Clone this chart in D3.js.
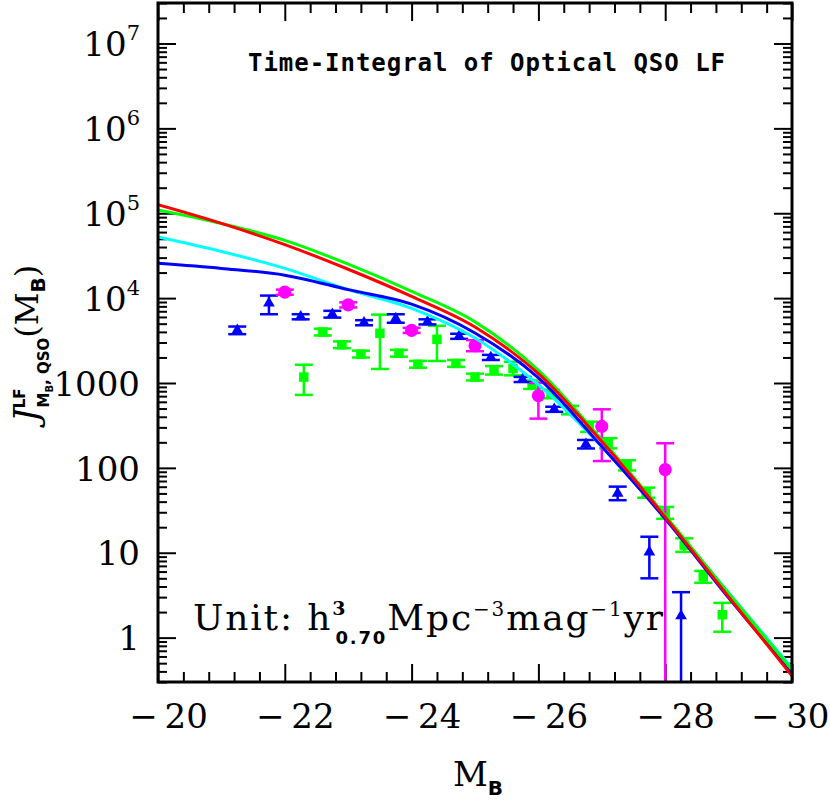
<!DOCTYPE html>
<html>
<head>
<meta charset="utf-8">
<script src="https://cdn.jsdelivr.net/npm/d3@7"></script>
<style>
  body { margin: 0; background: #fff; }
</style>
</head>
<body>
<svg id="chart" width="830" height="802"></svg>
<script>
"use strict";

// model curves (M_B grid, integral values)
const curve_mag = [-20, -21, -22, -23, -24, -25, -26, -27, -28, -29, -30];
const curve_red = [125900, 75860, 42660, 21880, 10470, 4571, 1288, 204, 26.3, 3.02, 0.355];
const curve_green = [109600, 75860, 47860, 25120, 12020, 5248, 1413, 214, 27.5, 3.31, 0.417];
const curve_cyan = [52480, 35480, 22390, 12590, 7586, 3388, 955, 178, 25.7, 3.39, 0.437];
const curve_blue = [25700, 22390, 18620, 12590, 8511, 3890, 1148, 178, 25.1, 2.95, 0.380];

// blue triangles
const tri_mag = [-21.25, -21.75, -22.25, -22.75, -23.25, -23.75, -24.25, -24.75, -25.25, -25.75, -26.25, -26.75, -27.25, -27.75, -28.25];
const tri_val = [4170, 8710, 6030, 6460, 5130, 5750, 5250, 3550, 2000, 1100, 490, 190, 50, 10.2, 1.8];
const tri_err_up = [0.045, 0.09, 0.03, 0.04, 0.03, 0.05, 0.03, 0.03, 0.03, 0.03, 0.03, 0.05, 0.08, 0.18, 0.28];   // dex
const tri_err_dn = [0.045, 0.13, 0.03, 0.04, 0.03, 0.05, 0.03, 0.03, 0.03, 0.03, 0.03, 0.05, 0.08, 0.31, null];

// magenta circles
const circ_mag = [-22, -23, -24, -25, -26, -27, -28];
const circ_val = [11750, 8320, 4170, 2750, 708, 309, 95.5];
const circ_err_up = [0.03, 0.03, 0.03, 0.065, 0.15, 0.2, 0.31];
const circ_err_dn = [0.03, 0.03, 0.03, 0.065, 0.27, 0.41, null];

// green squares
const sq_mag = [-22.3, -22.6, -22.9, -23.2, -23.5, -23.8, -24.1, -24.4, -24.7, -25.0, -25.3, -25.6,
  -25.9, -26.2, -26.5, -26.8, -27.1, -27.4, -27.7, -28.0, -28.3, -28.6, -28.9];
const sq_val = [1175, 3980, 2820, 2190, 3850, 2240, 1660, 3270, 1700, 1175, 1410, 1480,
  955, 741, 479, 305, 195, 107, 51, 29.5, 12.3, 5.2, 1.86];
const sq_err_up = [0.145, 0.04, 0.04, 0.04, 0.22, 0.04, 0.04, 0.16, 0.04, 0.04, 0.05, 0.08,
  0.05, 0.05, 0.05, 0.06, 0.06, 0.06, 0.06, 0.07, 0.08, 0.07, 0.14];
const sq_err_dn = [0.21, 0.04, 0.04, 0.04, 0.42, 0.04, 0.04, 0.255, 0.04, 0.04, 0.05, 0.08,
  0.05, 0.05, 0.05, 0.06, 0.06, 0.06, 0.06, 0.07, 0.08, 0.07, 0.2];

// axis ticks
const x_major = [-20, -22, -24, -26, -28, -30];
const y_major = [1, 10, 100, 1000, 1e4, 1e5, 1e6, 1e7];

const chart_svg = d3.select("#chart");
const plot_left = 158, plot_right = 792, plot_top = 3, plot_bottom = 682;

const x_scale = d3.scaleLinear().domain([-20, -30]).range([plot_left, plot_right]);
const y_scale = d3.scaleLog().domain([0.3, 3e7]).range([plot_bottom, plot_top]);

chart_svg.append("clipPath").attr("id", "plot-area").append("rect")
  .attr("x", plot_left).attr("y", plot_top)
  .attr("width", plot_right - plot_left).attr("height", plot_bottom - plot_top);

// minor ticks
const x_minor = d3.range(0, 26).filter(i => i % 5 !== 0).map(i => -20 - i * 0.4);
const y_minor = [];
for (let k = -1; k <= 7; k++) {
  for (let m = 2; m <= 9; m++) {
    const v = m * Math.pow(10, k);
    if (v >= 0.3 && v <= 3e7) y_minor.push(v);
  }
}

const serif = "'DejaVu Serif', serif";
const sans = "'DejaVu Sans', sans-serif";

function style_axis(g) {
  g.select(".domain").remove();
  g.selectAll(".tick line").attr("stroke", "#000").attr("stroke-width", 2);
}

// bottom + top
chart_svg.append("g")
  .attr("transform", "translate(0," + plot_bottom + ")")
  .call(d3.axisBottom(x_scale).tickValues(x_minor).tickSize(-10).tickFormat(""))
  .call(style_axis);
let x_axis = chart_svg.append("g")
  .attr("transform", "translate(0," + plot_bottom + ")")
  .call(d3.axisBottom(x_scale).tickValues(x_major).tickSize(-18).tickPadding(22)
    .tickFormat(d => "\u2212\u2009" + Math.abs(d)))
  .call(style_axis);
x_axis.selectAll(".tick text").each(function (d) {
  const t = d3.select(this)
    .attr("font-family", serif).attr("font-size", 34).attr("fill", "#000");
  // labels sit a bit right of the tick; the last one is kept inside the page
  if (d === -30) t.attr("text-anchor", "end").attr("x", 829 - plot_right);
  else t.attr("dx", 10);
});

chart_svg.append("g")
  .attr("transform", "translate(0," + plot_top + ")")
  .call(d3.axisTop(x_scale).tickValues(x_minor).tickSize(-10).tickFormat(""))
  .call(style_axis);
chart_svg.append("g")
  .attr("transform", "translate(0," + plot_top + ")")
  .call(d3.axisTop(x_scale).tickValues(x_major).tickSize(-18).tickFormat(""))
  .call(style_axis);

// left + right
chart_svg.append("g")
  .attr("transform", "translate(" + plot_left + ",0)")
  .call(d3.axisLeft(y_scale).tickValues(y_minor).tickSize(-9).tickFormat(""))
  .call(style_axis);
let y_axis = chart_svg.append("g")
  .attr("transform", "translate(" + plot_left + ",0)")
  .call(d3.axisLeft(y_scale).tickValues(y_major).tickSize(-18).tickPadding(18).tickFormat(""))
  .call(style_axis);

y_axis.selectAll(".tick text").each(function (d) {
  const t = d3.select(this)
    .attr("font-family", serif).attr("font-size", 34).attr("fill", "#000")
    .attr("dy", "0.36em");
  if (d >= 1e4) {
    const e = Math.round(Math.log10(d));
    t.append("tspan").text("10");
    t.append("tspan").attr("font-size", 21).attr("dy", "-0.75em").text(e);
  } else {
    t.text(d3.format("d")(d));
  }
});

chart_svg.append("g")
  .attr("transform", "translate(" + plot_right + ",0)")
  .call(d3.axisRight(y_scale).tickValues(y_minor).tickSize(-9).tickFormat(""))
  .call(style_axis);
chart_svg.append("g")
  .attr("transform", "translate(" + plot_right + ",0)")
  .call(d3.axisRight(y_scale).tickValues(y_major).tickSize(-18).tickFormat(""))
  .call(style_axis);

// data points with error bars
const plot_g = chart_svg.append("g").attr("clip-path", "url(#plot-area)");

function draw_points(mags, vals, err_up, err_dn, color, symbol, size) {
  const data = mags.map((m, i) => ({ m: m, v: vals[i], up: err_up[i], dn: err_dn[i] }));
  const grp = plot_g.append("g");
  const cap = 9;
  data.forEach(d => {
    const px = x_scale(d.m);
    const y_hi = y_scale(d.v * Math.pow(10, d.up));
    const y_lo = d.dn === null ? plot_bottom + 5 : y_scale(d.v / Math.pow(10, d.dn));
    grp.append("line").attr("x1", px).attr("x2", px).attr("y1", y_hi).attr("y2", y_lo)
      .attr("stroke", color).attr("stroke-width", 2.5);
    grp.append("line").attr("x1", px - cap).attr("x2", px + cap).attr("y1", y_hi).attr("y2", y_hi)
      .attr("stroke", color).attr("stroke-width", 2.5);
    if (d.dn !== null) {
      grp.append("line").attr("x1", px - cap).attr("x2", px + cap).attr("y1", y_lo).attr("y2", y_lo)
        .attr("stroke", color).attr("stroke-width", 2.5);
    }
  });
  grp.selectAll("path.mk")
    .data(data)
    .enter()
    .append("path")
    .attr("class", "mk")
    .attr("transform", d => "translate(" + x_scale(d.m) + "," + y_scale(d.v) + ")")
    .attr("d", d3.symbol().type(symbol).size(size))
    .attr("fill", color);
}

draw_points(sq_mag, sq_val, sq_err_up, sq_err_dn, "#00ff00", d3.symbolSquare, 90);
draw_points(tri_mag, tri_val, tri_err_up, tri_err_dn, "#0000ff", d3.symbolTriangle, 60);
draw_points(circ_mag, circ_val, circ_err_up, circ_err_dn, "#ff00ff", d3.symbolCircle, 135);

// model curves
const line_gen = d3.line()
  .x(d => x_scale(d[0]))
  .y(d => y_scale(d[1]))
  .curve(d3.curveMonotoneX);

const curves = [
  { vals: curve_cyan, color: "#00ffff" },
  { vals: curve_blue, color: "#0000ff" },
  { vals: curve_green, color: "#00ff00" },
  { vals: curve_red, color: "#ff0000" }
];
curves.forEach(c => {
  plot_g.append("path")
    .datum(curve_mag.map((m, i) => [m, c.vals[i]]))
    .attr("d", line_gen)
    .attr("fill", "none")
    .attr("stroke", c.color)
    .attr("stroke-width", 3);
});

// frame
chart_svg.append("rect")
  .attr("x", plot_left).attr("y", plot_top)
  .attr("width", plot_right - plot_left).attr("height", plot_bottom - plot_top)
  .attr("fill", "none").attr("stroke", "#000").attr("stroke-width", 3);

// title
chart_svg.append("text")
  .attr("x", 248).attr("y", 71)
  .attr("font-family", "'DejaVu Sans Mono', monospace").attr("font-weight", "bold")
  .attr("font-size", 24)
  .attr("textLength", 477).attr("lengthAdjust", "spacing")
  .text("Time-Integral of Optical QSO LF");

// unit annotation
let unit_txt = chart_svg.append("text")
  .attr("x", 193).attr("y", 630)
  .attr("font-family", serif).attr("font-size", 36)
  .attr("textLength", 470).attr("lengthAdjust", "spacing");
unit_txt.append("tspan").text("Unit:\u00a0h");
unit_txt.append("tspan").attr("font-size", 19).attr("font-weight", "bold").attr("dy", -15).text("3");
unit_txt.append("tspan").attr("font-size", 18).attr("font-weight", "bold")
  .attr("font-family", sans).attr("dx", -12).attr("dy", 29).text("0.70");
unit_txt.append("tspan").attr("dy", -14).text("Mpc");
unit_txt.append("tspan").attr("font-size", 20).attr("dy", -14).text("\u22123");
unit_txt.append("tspan").attr("dy", 14).text("mag");
unit_txt.append("tspan").attr("font-size", 20).attr("dy", -14).text("\u22121");
unit_txt.append("tspan").attr("dy", 14).text("yr");

// x label
let x_lab = chart_svg.append("text")
  .attr("x", 478).attr("y", 786)
  .attr("text-anchor", "middle")
  .attr("font-family", serif).attr("font-size", 34);
x_lab.append("tspan").text("M");
x_lab.append("tspan").attr("font-size", 20).attr("font-weight", "bold")
  .attr("font-family", sans).attr("dy", 9).text("B");

// y label
let y_lab = chart_svg.append("text")
  .attr("transform", "translate(38,422) rotate(-90)")
  .attr("font-family", serif).attr("font-size", 34);
y_lab.append("tspan").attr("font-style", "italic").text("J");
y_lab.append("tspan").attr("font-size", 15).attr("font-weight", "bold")
  .attr("font-family", sans).attr("dy", -13).text("LF");
y_lab.append("tspan").attr("font-size", 15).attr("font-weight", "bold")
  .attr("font-family", sans).attr("dx", -19).attr("dy", 24).text("M");
y_lab.append("tspan").attr("font-size", 10).attr("font-weight", "bold")
  .attr("font-family", sans).attr("dy", 4).text("B");
y_lab.append("tspan").attr("font-size", 15).attr("font-weight", "bold")
  .attr("font-family", sans).attr("dy", -4).text(", QSO");
y_lab.append("tspan").attr("font-size", 32).attr("dy", -11).text("(M");
y_lab.append("tspan").attr("font-size", 20).attr("font-weight", "bold")
  .attr("font-family", sans).attr("dy", 7).text("B");
y_lab.append("tspan").attr("font-size", 32).attr("dy", -7).text(")");
</script>
</body>
</html>
